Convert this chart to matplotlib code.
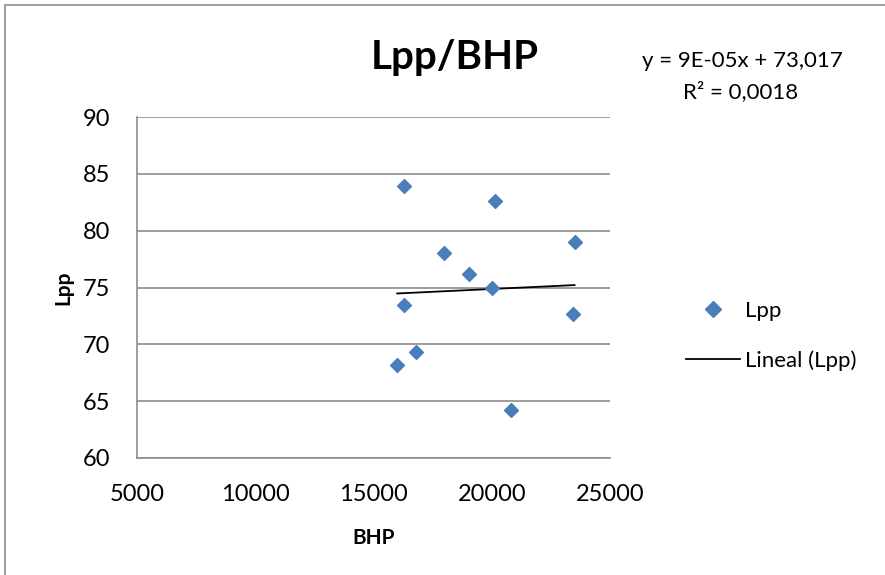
import numpy as np
import matplotlib.pyplot as plt
from matplotlib.lines import Line2D
from matplotlib.patches import Rectangle

# datos
bhp = [16300, 20150, 18000, 23500, 19050, 20000, 16300, 23450, 16800, 16000, 20800]
lpp = [83.9, 82.6, 78.0, 79.0, 76.2, 75.0, 73.5, 72.7, 69.3, 68.2, 64.2]
x_ticks = [5000, 10000, 15000, 20000, 25000]
y_ticks = [60, 65, 70, 75, 80, 85, 90]

plt.rcParams['font.family'] = ['Lato', 'DejaVu Sans']

fig = plt.figure(figsize=(8.85, 5.75), dpi=100)
# marco del area del grafico
fig.patches.append(Rectangle((5 / 885, -0.1), 1.1, 1.1 - 5 / 575,
                             transform=fig.transFigure, fill=False,
                             edgecolor='#8c8c8c', linewidth=1.2))

ax = fig.add_axes([137 / 885, 1 - 458 / 575, (610 - 137) / 885, (458 - 117) / 575])

ax.scatter(bhp, lpp, marker='D', s=50, color='#4a7ebb', zorder=3)

# linea de tendencia
coef = np.polyfit(bhp, lpp, 1)
xs = np.array([min(bhp), max(bhp)])
ax.plot(xs, np.polyval(coef, xs), color='black', linewidth=1.3, zorder=2)

ax.set_xlim(5000, 25000)
ax.set_ylim(60, 90)
ax.set_xticks(x_ticks)
ax.set_yticks(y_ticks)
ax.tick_params(length=0, labelsize=17)
ax.tick_params(axis='y', pad=19)
ax.tick_params(axis='x', pad=19)
ax.grid(axis='y', color='#8c8c8c', linewidth=1.2)
ax.set_axisbelow(True)
for side in ['top', 'right']:
    ax.spines[side].set_visible(False)
for side in ['left', 'bottom']:
    ax.spines[side].set_color('#8c8c8c')
    ax.spines[side].set_linewidth(1.2)

ax.set_xlabel('BHP', fontsize=15, fontweight='bold', labelpad=16)
ax.set_ylabel('Lpp', fontsize=15, fontweight='bold', labelpad=7)

fig.text(455 / 885, 1 - 58 / 575, 'Lpp/BHP', fontsize=29, fontweight='bold',
         ha='center', va='center')
fig.text(742 / 885, 1 - 61 / 575, 'y = 9E-05x + 73,017', fontsize=16,
         ha='center', va='center')
fig.text(741 / 885, 1 - 92 / 575, 'R² = 0,0018', fontsize=16,
         ha='center', va='center')

handles = [Line2D([], [], marker='D', linestyle='none', color='#4a7ebb', markersize=8),
           Line2D([], [], color='black', linewidth=1.3)]
fig.legend(handles, ['Lpp', 'Lineal (Lpp)'], loc='center left',
           bbox_to_anchor=(686 / 885, 1 - 336 / 575), frameon=False, borderpad=0,
           borderaxespad=0, fontsize=16, handlelength=2.45, handletextpad=0.2,
           labelspacing=1.3)

fig.savefig('out.png', dpi=100)
